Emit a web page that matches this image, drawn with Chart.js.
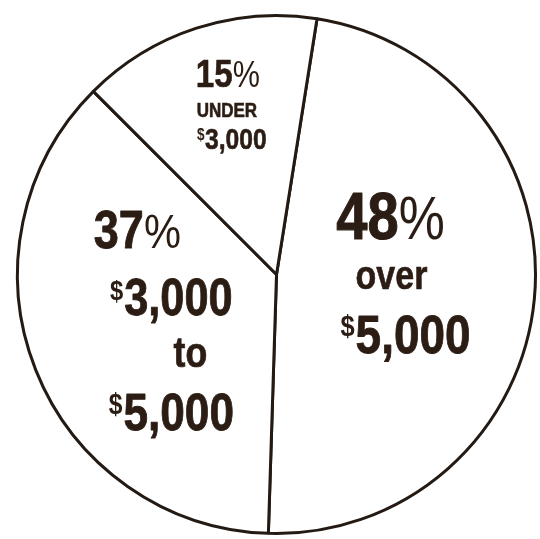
<!DOCTYPE html>
<html>
<head>
<meta charset="utf-8">
<script src="https://cdn.jsdelivr.net/npm/chart.js@4.4.1/dist/chart.umd.min.js"></script>
<style>
  html, body { margin: 0; padding: 0; background: #fff; }
  #wrap { width: 540px; height: 539px; }
</style>
</head>
<body>
<div id="wrap"><canvas id="pie"></canvas></div>
<script>
// income groups, clockwise from the top
const groups = ['over $5,000', '$3,000 to $5,000', 'under $3,000'];
const shares = [48, 37, 15];
const captionLines = [
  ['over', '$5,000'],
  ['$3,000', 'to', '$5,000'],
  ['UNDER', '$3,000']
];

const FONT = "'Liberation Sans', Arial, sans-serif";
const SX = 0.85; // squeeze the glyphs to get the condensed look
const INK = '#2b1d14';

// where each block of text sits, relative to the pie centre (cx, cy in radii)
// each line: [dx, dy (baseline), font size]
const labelLayout = [
  { cx: 0.471, cy: -0.011, lines: [[-8, -33, 66], [-7, 17, 40], [7, 81, 54]] },
  { cx: -0.429, cy: 0.176, lines: [[-28, -72, 53], [6, -5, 51], [25, 47, 42], [6, 110, 52]] },
  { cx: -0.18, cy: -0.659, lines: [[-2, -17, 39], [-3, 13, 20], [2, 45, 29]] }
];

function drawLine(ctx, text, x, y, size) {
  let prefix = '', suffix = '', body = text;
  if (body.startsWith('$')) { prefix = '$'; body = body.slice(1); }
  if (body.endsWith('%')) { suffix = '%'; body = body.slice(0, -1); }
  const bigFont = 'bold ' + size + 'px ' + FONT;
  const smallFont = 'bold ' + Math.round(size * 0.55) + 'px ' + FONT;
  const pctFont = Math.round(size * 0.92) + 'px ' + FONT;
  ctx.font = smallFont;
  const wPre = prefix ? ctx.measureText(prefix).width + size * 0.02 : 0;
  ctx.font = bigFont;
  const wBody = ctx.measureText(body).width;
  ctx.font = pctFont;
  const wSuf = suffix ? ctx.measureText(suffix).width : 0;
  ctx.save();
  ctx.translate(x, y);
  ctx.scale(SX, 1);
  let left = -(wPre + wBody + wSuf) / 2;
  ctx.textAlign = 'left';
  ctx.textBaseline = 'alphabetic';
  ctx.lineWidth = Math.max(0.6, size / 60);
  ctx.lineJoin = 'round';
  if (prefix) {
    ctx.font = smallFont;
    ctx.fillText(prefix, left, -size * 0.3);
    left += wPre;
  }
  ctx.font = bigFont;
  ctx.fillText(body, left, 0);
  ctx.strokeText(body, left, 0);
  left += wBody;
  if (suffix) {
    ctx.font = pctFont;
    ctx.fillText(suffix, left, 0);
  }
  ctx.restore();
}

const sliceText = {
  id: 'sliceText',
  afterDraw(chart) {
    const ctx = chart.ctx;
    const arcs = chart.getDatasetMeta(0).data;
    ctx.save();
    ctx.fillStyle = INK;
    ctx.strokeStyle = INK;
    arcs.forEach((arc, i) => {
      const r = arc.outerRadius;
      const lay = labelLayout[i];
      const bx = arc.x + lay.cx * r;
      const by = arc.y + lay.cy * r;
      const texts = [shares[i] + '%'].concat(captionLines[i]);
      texts.forEach((t, j) => {
        const [dx, dy, size] = lay.lines[j];
        drawLine(ctx, t, bx + dx, by + dy, size);
      });
    });
    ctx.restore();
  }
};

new Chart(document.getElementById('pie'), {
  type: 'pie',
  data: {
    labels: groups,
    datasets: [{
      data: shares,
      backgroundColor: '#ffffff',
      borderColor: '#231a14',
      borderWidth: 3
    }]
  },
  options: {
    responsive: true,
    maintainAspectRatio: false,
    animation: false,
    rotation: 9,
    layout: { padding: { left: 16, top: 12, right: 3, bottom: 2 } },
    plugins: {
      legend: { display: false },
      tooltip: { enabled: false }
    }
  },
  plugins: [sliceText]
});
</script>
</body>
</html>
